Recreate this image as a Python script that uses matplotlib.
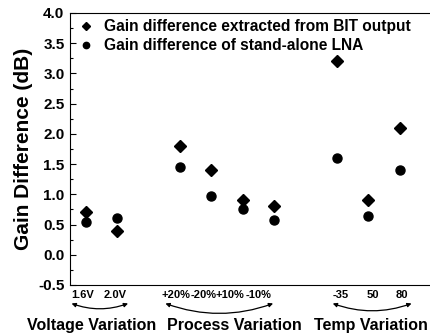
import matplotlib
matplotlib.use("Agg")
import matplotlib.pyplot as plt
import matplotlib.transforms as mtransforms

plt.rcParams['font.family'] = ['Liberation Sans', 'DejaVu Sans']
plt.rcParams['font.weight'] = 'bold'

# data
labels = ["1.6V", "2.0V", "+20%", "-20%", "+10%", "-10%", "-35", "50", "80"]
bit_gain = [0.7, 0.4, 1.8, 1.4, 0.9, 0.8, 3.2, 0.9, 2.1]
lna_gain = [0.55, 0.6, 1.45, 0.97, 0.75, 0.57, 1.6, 0.64, 1.4]
groups = ["Voltage Variation", "Process Variation", "Temp Variation"]

# layout
xpos = [1, 2, 4, 5, 6, 7, 9, 10, 11]
label_x = [0.9, 1.95, 3.86, 4.75, 5.6, 6.5, 9.13, 10.14, 11.06]
group_x = [1.2, 5.75, 10.1]
arrow_ends = [(0.55, 2.35), (3.54, 6.97), (8.87, 11.38)]

fig = plt.figure(figsize=(4.31, 3.35), dpi=100)
ax = fig.add_axes([0.1624, 0.1493, 0.8376, 0.8119])

ax.plot(xpos, bit_gain, 'D', color='black', markersize=6.5, label="Gain difference extracted from BIT output")
ax.plot(xpos, lna_gain, 'o', color='black', markersize=6.5, label="Gain difference of stand-alone LNA")

ax.set_xlim(0.5, 12)
ax.set_ylim(-0.5, 4.0)
ax.set_yticks([-0.5, 0, 0.5, 1.0, 1.5, 2.0, 2.5, 3.0, 3.5, 4.0])
ax.set_yticks([-0.25 + 0.5 * i for i in range(9)], minor=True)
ax.set_yticklabels(["%.1f" % v for v in ax.get_yticks()], fontsize=11, fontweight='bold')
ax.tick_params(axis='y', which='major', direction='in', length=4, width=0.8, pad=4)
ax.tick_params(axis='y', which='minor', direction='in', length=2, width=0.8)
ax.set_xticks([])
ax.spines['right'].set_visible(False)
ax.set_ylabel("Gain Difference (dB)", fontsize=15, fontweight='bold', labelpad=4)

trans = mtransforms.blended_transform_factory(ax.transData, ax.transAxes)
for x, lab in zip(label_x, labels):
    ax.text(x, -0.035, lab, transform=trans, ha='center', va='center', fontsize=8, fontweight='bold')
for x, g in zip(group_x, groups):
    ax.text(x, -0.15, g, transform=trans, ha='center', va='center', fontsize=11.5, fontweight='bold')
for x0, x1 in arrow_ends:
    ax.annotate("", xy=(x1, -0.068), xytext=(x0, -0.068), xycoords=trans, textcoords=trans,
                arrowprops=dict(arrowstyle='<|-|>', color='black', lw=0.9, mutation_scale=6,
                                shrinkA=0, shrinkB=0, connectionstyle='arc3,rad=0.18'),
                annotation_clip=False)

ax.legend(loc='upper left', frameon=False, markerscale=0.7, handletextpad=0.6,
          borderaxespad=0.0, labelspacing=0.25, handlelength=1.2, prop={'weight': 'bold', 'size': 11.2})

fig.savefig("out.png", dpi=100)
